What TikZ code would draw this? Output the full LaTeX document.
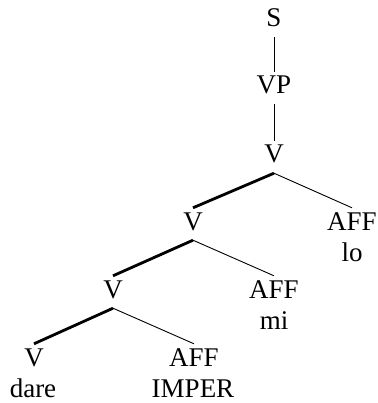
\documentclass[tikz,border=0pt]{standalone}
\usepackage{fontspec}
\setmainfont{Liberation Serif}
\begin{document}
\begin{tikzpicture}[x=1pt,y=-1pt,
  lab/.style={font=\fontsize{27}{32}\selectfont, anchor=base, inner xsep=0pt, inner ysep=4pt, text height=18pt, text depth=6pt},
  word/.style={font=\fontsize{27}{32}\selectfont, anchor=base, inner sep=0pt},
  thinedge/.style={line width=0.9pt},
  headedge/.style={line width=2.8pt}]
\useasboundingbox (0,0) rectangle (377,403);
\node[lab] (s) at (274,27) {S};
\node[lab] (vp) at (274,94) {VP};
\node[lab] (v1) at (274,163) {V};
\node[lab] (v2) at (193,230) {V};
\node[lab] (a1) at (352,230) {AFF};
\node[word] (lo) at (352,261) {lo};
\node[lab] (v3) at (113,298) {V};
\node[lab] (a2) at (274,298) {AFF};
\node[word] (mi) at (274,329) {mi};
\node[lab] (v4) at (34,366) {V};
\node[word] (dare) at (33,397) {dare};
\node[lab] (a3) at (194,366) {AFF};
\node[word] (imper) at (193,397) {IMPER};
\draw[thinedge] (s.south) -- (vp.north);
\draw[thinedge] (vp.south) -- (v1.north);
\draw[headedge] (v1.south) -- (v2.north);
\draw[thinedge] (v1.south) -- (a1.north);
\draw[headedge] (v2.south) -- (v3.north);
\draw[thinedge] (v2.south) -- (a2.north);
\draw[headedge] (v3.south) -- (v4.north);
\draw[thinedge] (v3.south) -- (a3.north);
\end{tikzpicture}
\end{document}
